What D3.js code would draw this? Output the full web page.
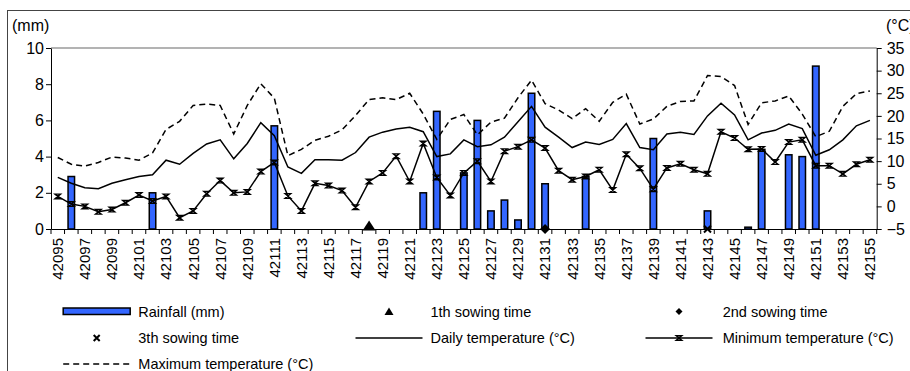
<!DOCTYPE html>
<html>
<head>
<meta charset="utf-8">
<script src="https://cdn.jsdelivr.net/npm/d3@7"></script>
<style>
  html, body { margin: 0; padding: 0; background: #fff; }
  svg { display: block; font-family: "Liberation Sans", Arial, sans-serif; }
</style>
</head>
<body>
<svg id="chart" width="910" height="371"></svg>
<script>
// ---------------- data ----------------
const categories = d3.range(42095, 42156).map(String);

const rainfall = [
  0, 2.9, 0, 0, 0, 0, 0, 2.0, 0, 0,
  0, 0, 0, 0, 0, 0, 5.7, 0, 0, 0,
  0, 0, 0, 0, 0, 0, 0, 2.0, 6.5, 0,
  3.1, 6.0, 1.0, 1.6, 0.5, 7.5, 2.5, 0, 0, 2.9,
  0, 0, 0, 0, 5.0, 0, 0, 0, 1.0, 0,
  0, 0.1, 4.4, 0, 4.1, 4.0, 9.0, 0, 0, 0,
  0
];

const dailyTemp = [
  6.4, 5.1, 4.1, 3.9, 5.1, 5.9, 6.6, 7.0, 10.2, 9.3,
  11.7, 13.8, 14.7, 10.5, 13.9, 18.5, 15.6, 8.7, 7.3, 10.3,
  10.3, 10.2, 11.9, 15.3, 16.4, 17.1, 17.5, 16.5, 11.0, 11.6,
  14.7, 13.2, 13.6, 15.3, 18.7, 22.1, 17.5, 15.3, 13.0, 14.2,
  13.7, 14.8, 18.3, 13.0, 12.5, 16.0, 16.4, 15.9, 20.0, 22.8,
  20.2, 14.7, 16.2, 16.8, 18.2, 17.2, 11.3, 12.5, 14.7, 17.8,
  19.0
];

const minTemp = [
  2.2, 0.5, 0.0, -1.2, -0.7, 0.8, 2.5, 1.2, 2.2, -2.5,
  -1.0, 2.8, 5.7, 3.0, 3.2, 7.7, 9.7, 2.3, -1.0, 5.1,
  4.6, 3.5, -0.2, 5.5, 7.4, 11.1, 5.5, 13.9, 6.4, 2.4,
  7.4, 10.0, 5.5, 12.2, 13.2, 14.7, 12.9, 7.9, 5.9, 6.6,
  8.1, 3.6, 11.5, 8.4, 3.8, 8.5, 9.4, 8.1, 7.2, 16.5,
  15.1, 12.6, 12.7, 9.8, 14.2, 14.7, 9.0, 9.0, 7.2, 9.3,
  10.3
];

const maxTemp = [
  10.8, 9.3, 8.9, 9.7, 10.9, 10.7, 10.2, 11.8, 17.0, 18.8,
  22.3, 22.6, 22.3, 16.0, 22.3, 27.1, 23.9, 11.2, 12.6, 14.6,
  15.5, 16.9, 20.1, 23.6, 24.0, 23.6, 25.0, 20.4, 14.8, 19.2,
  20.3, 15.8, 18.6, 19.5, 24.0, 27.9, 22.7, 21.3, 19.4, 21.6,
  18.8, 23.0, 24.8, 18.2, 19.3, 22.1, 23.2, 23.3, 28.9, 28.7,
  26.7, 18.1, 22.9, 23.3, 24.4, 20.4, 15.4, 16.6, 22.1, 24.9,
  25.5
];

const sowing1 = ["42118"];
const sowing2 = ["42131"];
const sowing3 = ["42143"];

const rainTicks = [0, 2, 4, 6, 8, 10];
const tempTicks = [-5, 0, 5, 10, 15, 20, 25, 30, 35];
const xLabelCats = categories.filter((c, i) => i % 2 === 0);

const legendItems = [
  { label: "Rainfall (mm)", type: "bar" },
  { label: "1th sowing time", type: "triangle" },
  { label: "2nd sowing time", type: "diamond" },
  { label: "3th sowing time", type: "cross" },
  { label: "Daily temperature (°C)", type: "line" },
  { label: "Minimum temperature (°C)", type: "lineMarker" },
  { label: "Maximum temperature (°C)", type: "dash" }
];

// ---------------- layout ----------------
const BLUE = "#3366ff";
const L = 51, R = 876.7, T = 48, B = 229;

const svg = d3.select("#chart");

// outer frame
svg.append("rect")
  .attr("x", 7.5).attr("y", 10.5)
  .attr("width", 960).attr("height", 420)
  .attr("fill", "#fff").attr("stroke", "#444").attr("stroke-width", 1);

const x = d3.scaleBand().domain(categories).range([L, R]).padding(0);
const yRain = d3.scaleLinear().domain([0, 10]).range([B, T]);
const yTemp = d3.scaleLinear().domain([-5, 35]).range([B, T]);
const cx = c => x(c) + x.bandwidth() / 2;

// plot area top border
svg.append("line")
  .attr("x1", L).attr("x2", R).attr("y1", T).attr("y2", T)
  .attr("stroke", "#9a9a9a").attr("stroke-width", 1.5);

// bars
const barW = 6.5;
svg.append("g").selectAll("rect")
  .data(categories.map((c, i) => ({ c, v: rainfall[i] })).filter(d => d.v > 0))
  .join("rect")
  .attr("x", d => cx(d.c) - barW / 2)
  .attr("y", d => yRain(d.v))
  .attr("width", barW)
  .attr("height", d => yRain(0) - yRain(d.v))
  .attr("fill", BLUE)
  .attr("stroke", "#000")
  .attr("stroke-width", 1.5);

// axes
const axisStyle = g => {
  g.selectAll("text").attr("font-size", 16).attr("fill", "#000")
    .attr("font-family", "'Liberation Sans', Arial, sans-serif");
  g.selectAll("line").attr("stroke", "#000");
  g.select(".domain").attr("stroke", "#000");
};

svg.append("g")
  .attr("transform", `translate(${L},0)`)
  .call(d3.axisLeft(yRain).tickValues(rainTicks).tickSize(5).tickSizeOuter(0).tickPadding(2))
  .call(axisStyle);

svg.append("g")
  .attr("transform", `translate(${R},0)`)
  .call(d3.axisRight(yTemp).tickValues(tempTicks).tickSize(5).tickSizeOuter(0).tickPadding(5))
  .call(axisStyle);

// x axis with labels on every other category
const xAxisG = svg.append("g")
  .attr("transform", `translate(0,${B})`)
  .call(d3.axisBottom(x).tickValues(xLabelCats).tickSize(0).tickSizeOuter(0))
  .call(axisStyle);
xAxisG.selectAll(".tick text")
  .attr("font-size", 15)
  .attr("transform", "rotate(-90)")
  .attr("text-anchor", "end")
  .attr("x", -9)
  .attr("y", 0)
  .attr("dy", "0.36em");

// x tick marks at band boundaries
const boundaries = categories.map(c => x(c)).concat([x.range()[1]]);
svg.append("g").selectAll("line")
  .data(boundaries)
  .join("line")
  .attr("x1", d => d).attr("x2", d => d)
  .attr("y1", B).attr("y2", B + 5)
  .attr("stroke", "#000");

// unit labels
svg.append("text").attr("x", 12).attr("y", 25).attr("dy", "0.35em")
  .attr("font-size", 16).text("(mm)");
svg.append("text").attr("x", 886).attr("y", 25).attr("dy", "0.35em")
  .attr("font-size", 16).text("(°C)");

// lines
const lineGen = arr => d3.line()
  .x((d, i) => cx(categories[i]))
  .y(d => yTemp(d))(arr);

svg.append("path").attr("d", lineGen(maxTemp))
  .attr("fill", "none").attr("stroke", "#000").attr("stroke-width", 1.5)
  .attr("stroke-dasharray", "6,4");
svg.append("path").attr("d", lineGen(dailyTemp))
  .attr("fill", "none").attr("stroke", "#000").attr("stroke-width", 1.5);
svg.append("path").attr("d", lineGen(minTemp))
  .attr("fill", "none").attr("stroke", "#000").attr("stroke-width", 1.5);

const minMarker = "M-2.8,-2.3L2.8,-2.3L-2.8,2.3L2.8,2.3Z";
svg.append("g").selectAll("path")
  .data(minTemp)
  .join("path")
  .attr("transform", (d, i) => `translate(${cx(categories[i])},${yTemp(d)})`)
  .attr("d", minMarker)
  .attr("fill", "none").attr("stroke", "#000").attr("stroke-width", 1.4);

// sowing markers (at rainfall 0)
const triPath = "M0,-8.5L6.5,1.5L-6.5,1.5Z";
const diaPath = "M0,-5L5,0L0,5L-5,0Z";
const crossPath = "M-3.5,-3.5L3.5,3.5M3.5,-3.5L-3.5,3.5";

svg.append("g").selectAll("path").data(sowing1).join("path")
  .attr("transform", d => `translate(${cx(d)},${yRain(0)})`)
  .attr("d", triPath).attr("fill", "#000");
svg.append("g").selectAll("path").data(sowing2).join("path")
  .attr("transform", d => `translate(${cx(d)},${yRain(0)})`)
  .attr("d", diaPath).attr("fill", "#000");
svg.append("g").selectAll("path").data(sowing3).join("path")
  .attr("transform", d => `translate(${cx(d)},${yRain(0)})`)
  .attr("d", crossPath).attr("fill", "none").attr("stroke", "#000").attr("stroke-width", 2);

// legend
const colX = [96.7, 389, 679];
const textX = [138.3, 430.5, 722.7];
const rowY = [311.5, 338, 364];
const lg = svg.append("g").attr("font-size", 14.5);
legendItems.forEach((item, k) => {
  const col = k % 3, row = Math.floor(k / 3);
  const sx = colX[col], sy = rowY[row];
  const g = lg.append("g");
  if (item.type === "bar") {
    g.append("rect").attr("x", sx - 33.5).attr("y", sy - 3.5).attr("width", 67).attr("height", 6.5)
      .attr("fill", BLUE).attr("stroke", "#000").attr("stroke-width", 1.5);
  } else if (item.type === "triangle") {
    g.append("path").attr("transform", `translate(${sx},${sy})`).attr("d", "M0,-4L4.5,3.5L-4.5,3.5Z").attr("fill", "#000");
  } else if (item.type === "diamond") {
    g.append("path").attr("transform", `translate(${sx},${sy})`).attr("d", "M0,-3.5L3.5,0L0,3.5L-3.5,0Z").attr("fill", "#000");
  } else if (item.type === "cross") {
    g.append("path").attr("transform", `translate(${sx},${sy})`).attr("d", "M-3,-3L3,3M3,-3L-3,3")
      .attr("stroke", "#000").attr("stroke-width", 2);
  } else if (item.type === "line" || item.type === "lineMarker" || item.type === "dash") {
    g.append("line").attr("x1", sx - 33.5).attr("x2", sx + 33.5).attr("y1", sy).attr("y2", sy)
      .attr("stroke", "#000").attr("stroke-width", 1.5)
      .attr("stroke-dasharray", item.type === "dash" ? "6,4" : null);
    if (item.type === "lineMarker") {
      g.append("path").attr("transform", `translate(${sx},${sy})`).attr("d", minMarker)
        .attr("fill", "none").attr("stroke", "#000").attr("stroke-width", 1.4);
    }
  }
  g.append("text").attr("x", textX[col]).attr("y", sy).attr("dy", "0.35em").text(item.label);
});
</script>
</body>
</html>
